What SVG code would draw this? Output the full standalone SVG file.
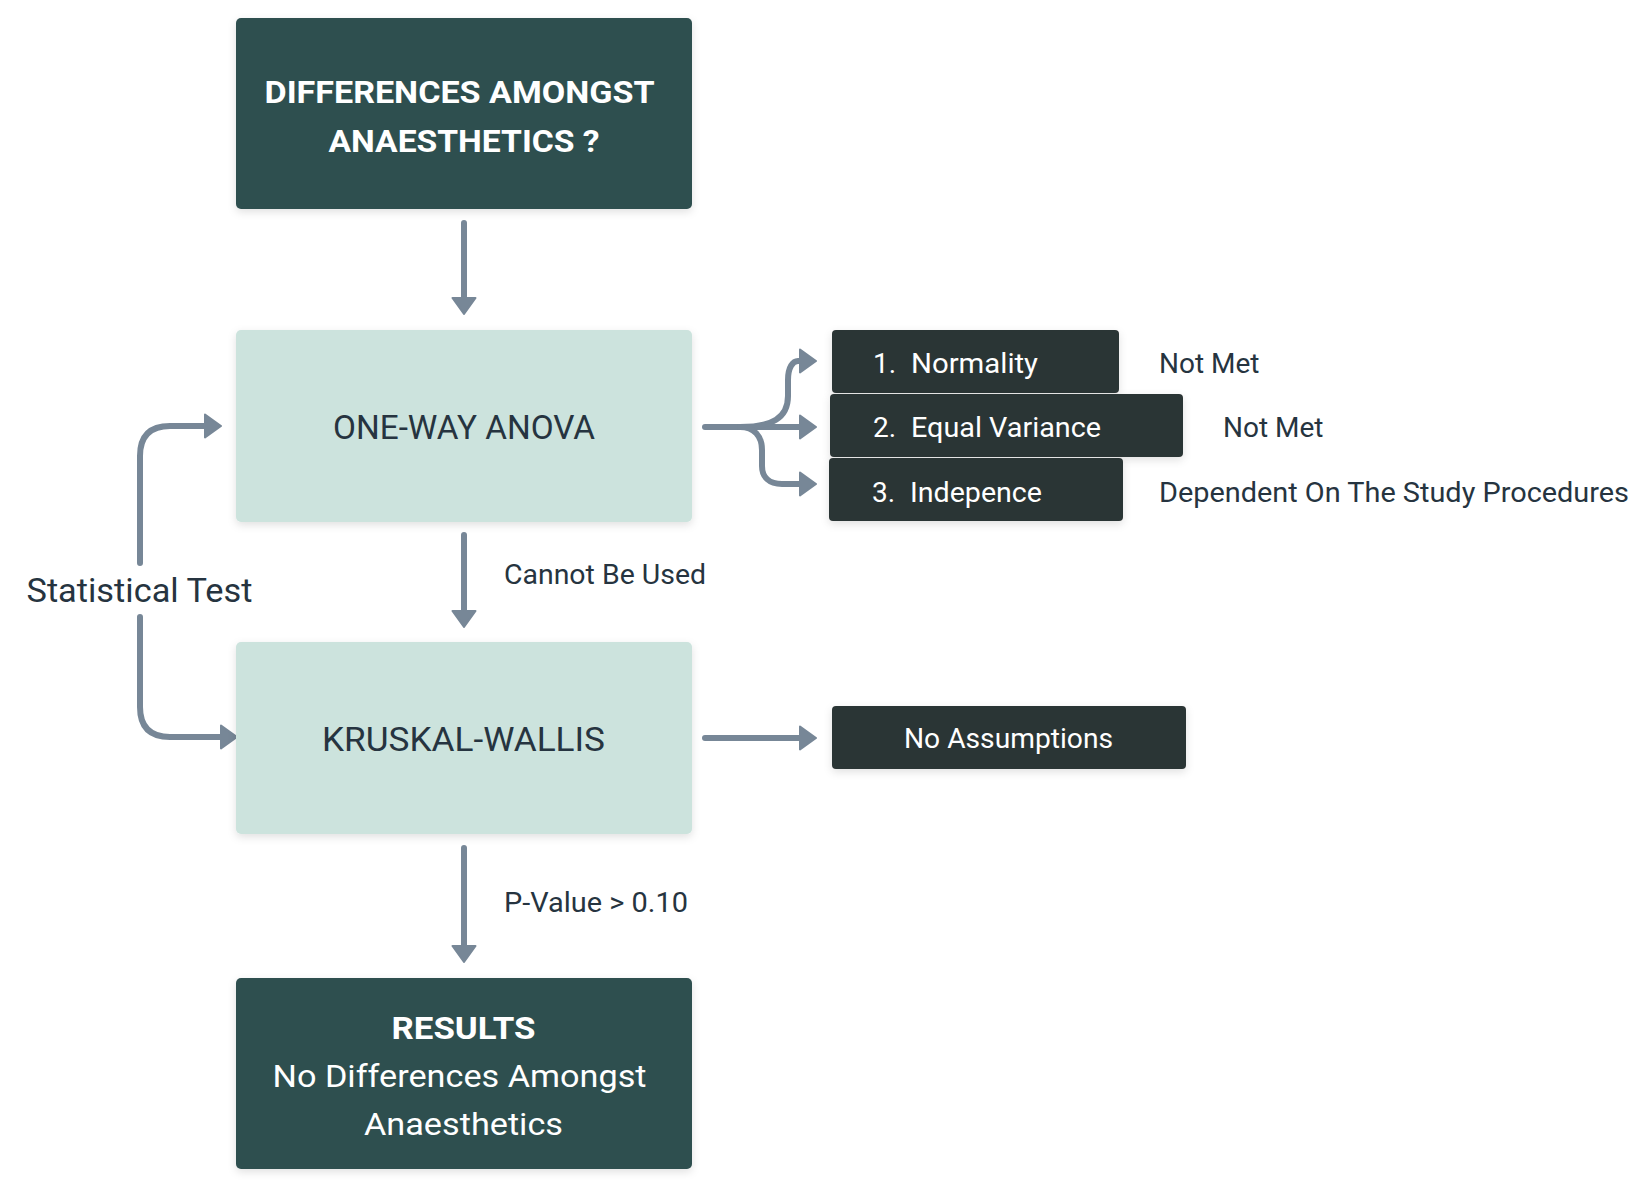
<svg xmlns="http://www.w3.org/2000/svg" width="1650" height="1188" viewBox="0 0 1650 1188">
<style>
text{font-family:Roboto,"Liberation Sans",sans-serif;}
.dark{fill:#2f4f4f;}
.light{fill:#cce3dd;}
.chip{fill:#2c3434;}
.wt{fill:#ffffff;}
.lbl{fill:#263440;}
.conn{fill:none;stroke:#778797;stroke-width:6;stroke-linecap:round;stroke-linejoin:round;}
</style>
<defs>
<filter id="sh" x="-10%" y="-10%" width="120%" height="130%">
<feDropShadow dx="0" dy="3" stdDeviation="4" flood-color="#000" flood-opacity="0.12"/>
</filter>
<marker id="ah" viewBox="0 0 18 26" refX="1" refY="13" markerWidth="18" markerHeight="26" markerUnits="userSpaceOnUse" orient="auto">
<path d="M1,1.5 L17,13 L1,24.5 Z" fill="#778797" stroke="#778797" stroke-width="2" stroke-linejoin="round"/>
</marker>
</defs>

<g id="connectors">
<path class="conn" d="M464 223 L464 298" marker-end="url(#ah)"/>
<path class="conn" d="M464 535 L464 611" marker-end="url(#ah)"/>
<path class="conn" d="M464 848 L464 946" marker-end="url(#ah)"/>
<path class="conn" d="M140 563 L140 456 Q140 426 170 426 L205 426" marker-end="url(#ah)"/>
<path class="conn" d="M140 617 L140 707 Q140 737 170 737 L221 737" marker-end="url(#ah)"/>
<path class="conn" d="M705 427 L800 427" marker-end="url(#ah)"/>
<path class="conn" d="M740 427 C772 427 788 418 788 396 L788 380 C788 367 793 361 798 361 L800 361" marker-end="url(#ah)"/>
<path class="conn" d="M740 427 C754 427 762 436 762 450 L762 466 C762 477 769 484 782 484 L800 484" marker-end="url(#ah)"/>
<path class="conn" d="M705 738 L800 738" marker-end="url(#ah)"/>
</g>

<g id="node-question">
<rect class="dark" x="236" y="18" width="456" height="191" rx="5" filter="url(#sh)"/>
<text class="wt" x="459.5" y="103" font-size="32" font-weight="bold" text-anchor="middle" textLength="390" lengthAdjust="spacingAndGlyphs">DIFFERENCES AMONGST</text>
<text class="wt" x="464" y="152" font-size="32" font-weight="bold" text-anchor="middle" textLength="271" lengthAdjust="spacingAndGlyphs">ANAESTHETICS ?</text>
</g>

<g id="node-anova">
<rect class="light" x="236" y="330" width="456" height="192" rx="5" filter="url(#sh)"/>
<text class="lbl" x="464" y="439" font-size="33" text-anchor="middle" textLength="262" lengthAdjust="spacingAndGlyphs">ONE-WAY ANOVA</text>
</g>

<g id="node-kruskal">
<rect class="light" x="236" y="642" width="456" height="192" rx="5" filter="url(#sh)"/>
<text class="lbl" x="463.5" y="751" font-size="33" text-anchor="middle" textLength="283" lengthAdjust="spacingAndGlyphs">KRUSKAL-WALLIS</text>
</g>

<g id="node-results">
<rect class="dark" x="236" y="978" width="456" height="191" rx="5" filter="url(#sh)"/>
<text class="wt" x="463.5" y="1039" font-size="32" font-weight="bold" text-anchor="middle" textLength="144" lengthAdjust="spacingAndGlyphs">RESULTS</text>
<text class="wt" x="459.5" y="1087" font-size="32" text-anchor="middle" textLength="374" lengthAdjust="spacingAndGlyphs">No Differences Amongst</text>
<text class="wt" x="463.5" y="1135" font-size="32" text-anchor="middle" textLength="199" lengthAdjust="spacingAndGlyphs">Anaesthetics</text>
</g>

<g id="node-normality">
<rect class="chip" x="832" y="330" width="287" height="63" rx="4" filter="url(#sh)"/>
<text class="wt" x="873" y="373" font-size="28">1.</text>
<text class="wt" x="911" y="373" font-size="28" textLength="127" lengthAdjust="spacingAndGlyphs">Normality</text>
</g>

<g id="node-variance">
<rect class="chip" x="830" y="394" width="353" height="63" rx="4" filter="url(#sh)"/>
<text class="wt" x="873" y="437" font-size="28">2.</text>
<text class="wt" x="911" y="437" font-size="28" textLength="190" lengthAdjust="spacingAndGlyphs">Equal Variance</text>
</g>

<g id="node-independence">
<rect class="chip" x="829" y="458" width="294" height="63" rx="4" filter="url(#sh)"/>
<text class="wt" x="872" y="502" font-size="28">3.</text>
<text class="wt" x="910" y="502" font-size="28" textLength="132" lengthAdjust="spacingAndGlyphs">Indepence</text>
</g>

<g id="node-noassumptions">
<rect class="chip" x="832" y="706" width="354" height="63" rx="4" filter="url(#sh)"/>
<text class="wt" x="1008.5" y="748" font-size="28" text-anchor="middle" textLength="209" lengthAdjust="spacingAndGlyphs">No Assumptions</text>
</g>

<g id="labels">
<text class="lbl" x="1159" y="373" font-size="28">Not Met</text>
<text class="lbl" x="1223" y="437" font-size="28">Not Met</text>
<text class="lbl" x="1159" y="502" font-size="28" textLength="470" lengthAdjust="spacingAndGlyphs">Dependent On The Study Procedures</text>
<text class="lbl" x="504" y="584" font-size="27" textLength="202" lengthAdjust="spacingAndGlyphs">Cannot Be Used</text>
<text class="lbl" x="504" y="912" font-size="27" textLength="184" lengthAdjust="spacingAndGlyphs">P-Value &gt; 0.10</text>
<text class="lbl" x="139.5" y="602" font-size="33" text-anchor="middle" textLength="226" lengthAdjust="spacingAndGlyphs">Statistical Test</text>
</g>
</svg>
